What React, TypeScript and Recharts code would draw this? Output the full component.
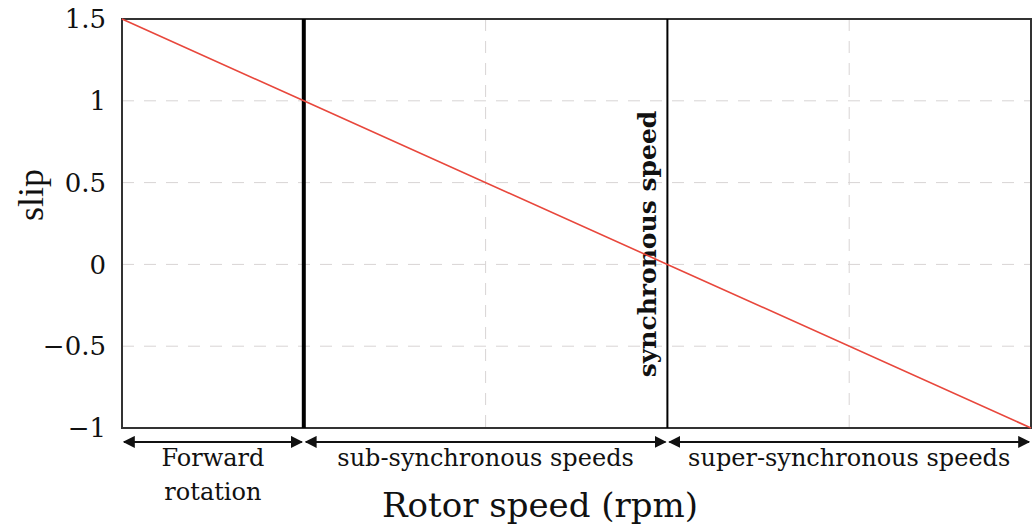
import React from "react";
import {
  LineChart,
  Line,
  XAxis,
  YAxis,
  CartesianGrid,
  ReferenceLine,
  ReferenceArea,
} from "recharts";

const speed = [-0.5, 0, 1, 2];
const slip = [1.5, 1, 0, -1];
const yTicks = [1.5, 1, 0.5, 0, -0.5, -1];
const xTicks = [-0.5, 0, 0.5, 1, 1.5, 2];
const regions = [
  { from: -0.5, to: 0, lines: ["Forward", "rotation"] },
  { from: 0, to: 1, lines: ["sub-synchronous speeds"] },
  { from: 1, to: 2, lines: ["super-synchronous speeds"] },
];

const data = speed.map((s, i) => ({ speed: s, slip: slip[i] }));

const serif = "'Liberation Serif', 'DejaVu Serif', serif";
const wide = "'DejaVu Serif', 'Liberation Serif', serif";

function fmt(v: number) {
  return String(v).replace("-", "\u2212");
}

function ArrowShape(props: any) {
  const { x1, x2, y1, lines } = props;
  const mid = (x1 + x2) / 2;
  return (
    <g>
      <line
        x1={x1 + 2}
        x2={x2 - 2}
        y1={y1}
        y2={y1}
        stroke="#111"
        strokeWidth={2}
        markerStart="url(#arrowHead)"
        markerEnd="url(#arrowHead)"
      />
      {lines.map((t: string, i: number) => (
        <text
          key={t}
          x={mid}
          y={y1 + 24 + i * 34}
          textAnchor="middle"
          fontFamily={wide}
          fontSize={24}
          fill="#111"
        >
          {t}
        </text>
      ))}
    </g>
  );
}

export default function App() {
  return (
    <div style={{ position: "absolute", left: 0, top: 0, background: "#fff" }}>
      <LineChart
        width={1035}
        height={526}
        data={data}
        margin={{ top: 19, right: 4, left: 0, bottom: 0 }}
      >
        <defs>
          <marker
            id="arrowHead"
            viewBox="0 0 10 10"
            refX="9"
            refY="5"
            markerWidth="6"
            markerHeight="6"
            orient="auto-start-reverse"
          >
            <path d="M0,0 L10,5 L0,10 z" fill="#111" />
          </marker>
        </defs>
        <CartesianGrid stroke="#d8d4d4" strokeDasharray="12 10" />
        <XAxis
          type="number"
          dataKey="speed"
          domain={[-0.5, 2]}
          ticks={xTicks}
          tick={() => <g />}
          tickLine={false}
          axisLine={false}
          height={98}
          label={{
            content: () => (
              <text
                x={540}
                y={517}
                textAnchor="middle"
                fontFamily={wide}
                fontSize={34}
                fill="#111"
              >
                Rotor speed (rpm)
              </text>
            ),
          }}
        />
        <YAxis
          type="number"
          domain={[-1, 1.5]}
          ticks={yTicks}
          tickFormatter={fmt}
          width={122}
          tickLine={false}
          axisLine={false}
          tick={{ fontFamily: wide, fontSize: 26, fill: "#111" }}
          tickMargin={10}
          label={{
            content: () => (
              <text
                x={43}
                y={195}
                transform="rotate(-90 43 195)"
                textAnchor="middle"
                fontFamily={serif}
                fontSize={36}
                fill="#111"
              >
                slip
              </text>
            ),
          }}
        />
        <ReferenceArea
          x1={-0.5}
          x2={2}
          y1={-1}
          y2={1.5}
          fill="none"
          stroke="#333"
          strokeWidth={2}
          fillOpacity={0}
        />
        <ReferenceLine x={0} stroke="#000" strokeWidth={4} />
        <ReferenceLine
          x={1}
          stroke="#000"
          strokeWidth={2}
          label={{
            content: () => (
              <text
                x={656}
                y={244}
                transform="rotate(-90 656 244)"
                textAnchor="middle"
                fontFamily={wide}
                fontWeight="bold"
                fontSize={25}
                fill="#111"
              >
                synchronous speed
              </text>
            ),
          }}
        />
        {regions.map((r) => (
          <ReferenceLine
            key={r.from}
            segment={[
              { x: r.from, y: -1.085 },
              { x: r.to, y: -1.085 },
            ]}
            ifOverflow="visible"
            shape={(p: any) => <ArrowShape {...p} lines={r.lines} />}
          />
        ))}
        <Line
          type="linear"
          dataKey="slip"
          stroke="#e8473c"
          strokeWidth={1.6}
          dot={false}
          isAnimationActive={false}
        />
      </LineChart>
    </div>
  );
}
